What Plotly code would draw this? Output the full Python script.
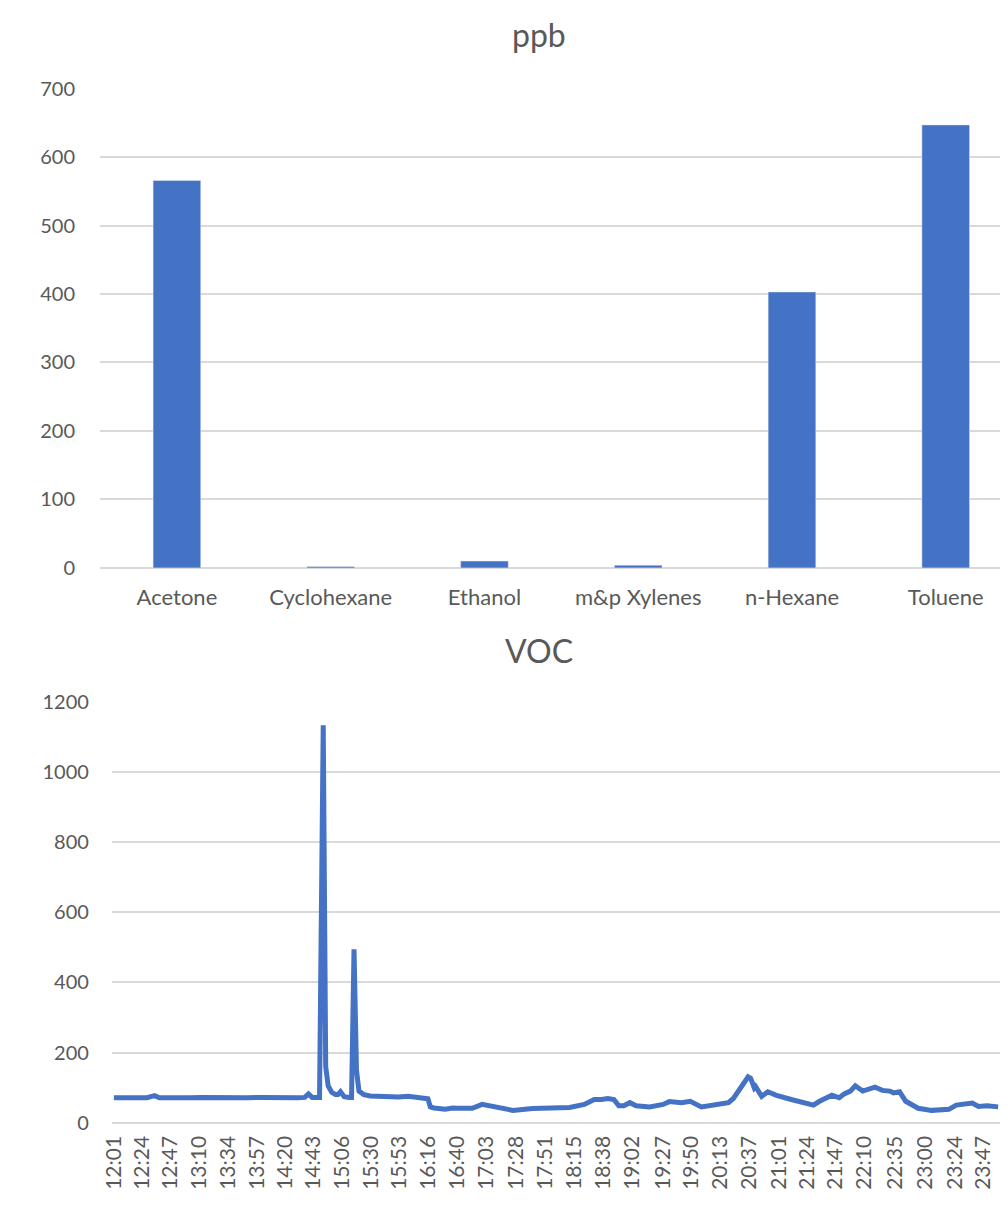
import pandas as pd
import plotly.graph_objects as go

# ---------------- data ----------------
categories = ["Acetone", "Cyclohexane", "Ethanol", "m&p Xylenes", "n-Hexane", "Toluene"]
ppb_values = [566, 2, 10, 4, 403, 647]

voc_times = [
    "12:01", "12:08", "12:15", "12:22", "12:28", "12:34", "12:38", "12:47", "12:55", "13:03",
    "13:12", "13:22", "13:32", "13:42", "13:50", "14:00", "14:10", "14:20", "14:30", "14:36",
    "14:39", "14:42", "14:46", "14:48", "14:51", "14:53", "14:55", "14:58", "15:01", "15:03",
    "15:05", "15:08", "15:12", "15:14", "15:16", "15:18", "15:20", "15:24", "15:29", "15:40",
    "15:52", "16:00", "16:08", "16:14", "16:16", "16:18", "16:21", "16:30", "16:36", "16:40",
    "16:52", "17:00", "17:05", "17:19", "17:25", "17:41", "17:51", "17:57", "18:11", "18:23",
    "18:31", "18:37", "18:42", "18:47", "18:51", "18:55", "19:00", "19:05", "19:16", "19:27",
    "19:32", "19:42", "19:49", "19:58", "20:08", "20:20", "20:24", "20:28", "20:32", "20:36",
    "20:38", "20:41", "20:42", "20:47", "20:52", "20:59", "21:11", "21:29", "21:34", "21:44",
    "21:50", "21:54", "21:59", "22:03", "22:09", "22:14", "22:19", "22:25", "22:31", "22:34",
    "22:39", "22:44", "22:54", "23:05", "23:19", "23:25", "23:31", "23:38", "23:43", "23:50",
    "23:59",
]
voc_values = [
    71, 70, 72, 71, 71, 77, 71, 70, 72, 71,
    72, 71, 70, 72, 71, 72, 71, 72, 71, 72,
    82, 72, 70, 72, 1134, 160, 105, 86, 80, 80,
    88, 74, 72, 72, 495, 150, 90, 80, 76, 74,
    73, 75, 73, 72, 68, 45, 42, 38, 42, 41,
    41, 52, 48, 39, 35, 40, 41, 41, 43, 52,
    66, 66, 69, 66, 48, 48, 57, 48, 45, 52,
    60, 57, 61, 45, 52, 57, 69, 90, 108, 131,
    127, 99, 103, 75, 88, 78, 66, 50, 61, 78,
    71, 82, 90, 105, 90, 97, 101, 92, 90, 85,
    88, 61, 41, 35, 38, 50, 52, 56, 46, 48,
    45,
]

tick_labels = [
    "12:01", "12:24", "12:47", "13:10", "13:34", "13:57", "14:20", "14:43", "15:06", "15:30",
    "15:53", "16:16", "16:40", "17:03", "17:28", "17:51", "18:15", "18:38", "19:02", "19:27",
    "19:50", "20:13", "20:37", "21:01", "21:24", "21:47", "22:10", "22:35", "23:00", "23:24",
    "23:47",
]

DAY = "2024-01-01 "
x_times = pd.to_datetime([DAY + t for t in voc_times])
tick_vals = pd.to_datetime([DAY + t for t in tick_labels])

# ---------------- style ----------------
W, H = 1008, 1206
OFF = 8  # page body margin offset
BLUE = "#4472C4"
GRID = "#D9D9D9"
TXT = "#595959"
FONT = "Lato"


def px_x(p):
    return (p - OFF) / W


def px_y(p):
    return 1 - (p - OFF) / H


fig = go.Figure()

fig.add_trace(go.Bar(
    x=categories, y=ppb_values, marker_color=BLUE, width=0.31,
    xaxis="x", yaxis="y", showlegend=False,
))

fig.add_trace(go.Scatter(
    x=x_times, y=voc_values, mode="lines",
    line=dict(color=BLUE, width=5),
    xaxis="x2", yaxis="y2", showlegend=False,
))

fig.update_layout(
    width=W, height=H,
    margin=dict(l=0, r=0, t=0, b=0),
    paper_bgcolor="white", plot_bgcolor="white",
    font=dict(family=FONT, color=TXT, size=20),
    xaxis=dict(
        domain=[px_x(89), 1.0], anchor="y",
        range=[-0.5, 5.457], showgrid=False, showline=False, zeroline=False,
        ticks="", tickfont=dict(size=22, color=TXT), ticklabelstandoff=14,
        fixedrange=True,
    ),
    yaxis=dict(
        domain=[px_y(566), px_y(77)], anchor="x",
        range=[0, 700], dtick=100, showgrid=True, gridcolor=GRID, gridwidth=1.5,
        zeroline=True, zerolinecolor=GRID, zerolinewidth=1.5,
        showline=False, ticks="", tickfont=dict(size=20, color=TXT),
        ticklabelstandoff=24,
    ),
    xaxis2=dict(
        domain=[px_x(101), 1.0], anchor="y2", type="date",
        range=[DAY + "11:59:24", "2024-01-02 00:13:30"],
        tickmode="array", tickvals=tick_vals, ticktext=tick_labels,
        tickangle=-90, showgrid=False, showline=False, zeroline=False,
        ticks="", tickfont=dict(size=21, color=TXT), ticklabelstandoff=8,
    ),
    yaxis2=dict(
        domain=[px_y(1132), px_y(703)], anchor="x2",
        range=[0, 1200], dtick=200, showgrid=True, gridcolor=GRID, gridwidth=1.5,
        zeroline=True, zerolinecolor=GRID, zerolinewidth=1.5,
        showline=False, ticks="", tickfont=dict(size=20, color=TXT),
        ticklabelstandoff=22,
    ),
    annotations=[
        dict(text="ppb", x=px_x(533), y=px_y(22), xref="paper", yref="paper",
             xanchor="center", yanchor="middle", showarrow=False,
             font=dict(size=32, color=TXT, family=FONT)),
        dict(text="VOC", x=px_x(533), y=px_y(650), xref="paper", yref="paper",
             xanchor="center", yanchor="middle", showarrow=False,
             font=dict(size=32, color=TXT, family=FONT)),
    ],
)

fig.write_html("out.html")
